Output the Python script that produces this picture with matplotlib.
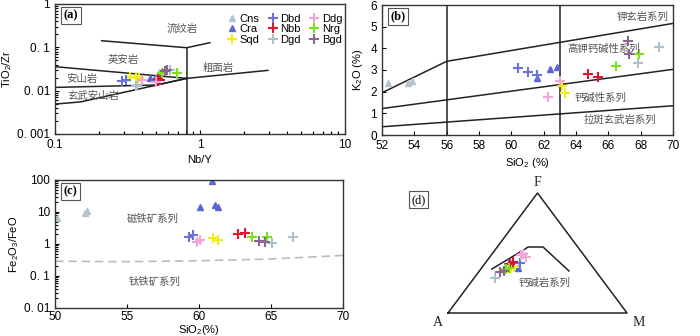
import numpy as np
import matplotlib
matplotlib.use('Agg')
import matplotlib.pyplot as plt
from matplotlib.ticker import NullFormatter, LogLocator

plt.rcParams['font.family'] = ['Liberation Sans', 'Noto Sans CJK SC', 'DejaVu Sans']
plt.rcParams['font.size'] = 8
plt.rcParams['mathtext.fontset'] = 'custom'
plt.rcParams['mathtext.rm'] = 'Liberation Sans'
plt.rcParams['mathtext.it'] = 'Liberation Sans'

#* Groups and styles
GROUPS = ['Cns', 'Cra', 'Sqd', 'Dbd', 'Nbb', 'Dgd', 'Ddg', 'Nrg', 'Bgd']
COLOURS = {'Cns': '#b4c2cc', 'Cra': '#5a66d6', 'Sqd': '#f2ee10', 'Dbd': '#6a72dc',
           'Nbb': '#e0142e', 'Dgd': '#a9c3cc', 'Ddg': '#f0a6d6', 'Nrg': '#7ce01e',
           'Bgd': '#8e6494'}
MARKERS = {'Cns': '^', 'Cra': '^', 'Sqd': '+', 'Dbd': '+', 'Nbb': '+',
           'Dgd': '+', 'Ddg': '+', 'Nrg': '+', 'Bgd': '+'}

#* (a) Nb/Y vs TiO2/Zr
A_NBY = {'Cns': [0.52], 'Cra': [0.45, 0.49], 'Sqd': [0.33, 0.36, 0.38],
         'Dbd': [0.29, 0.31], 'Nbb': [0.51, 0.53], 'Dgd': [0.36, 0.37, 0.62],
         'Ddg': [0.40, 0.50], 'Nrg': [0.55, 0.69], 'Bgd': [0.57, 0.59]}
A_TIZR = {'Cns': [0.0275], 'Cra': [0.0200, 0.0200], 'Sqd': [0.021, 0.021, 0.020],
          'Dbd': [0.0165, 0.0175], 'Nbb': [0.0190, 0.0175], 'Dgd': [0.0125, 0.0130, 0.030],
          'Ddg': [0.0172, 0.0155], 'Nrg': [0.026, 0.026], 'Bgd': [0.029, 0.030]}
A_LINES = [
    ([0.21, 0.81, 1.17], [0.142, 0.098, 0.128]),
    ([0.81, 0.81], [0.098, 0.001]),
    ([0.1, 0.81], [0.0358, 0.0192]),
    ([0.1, 0.5, 0.81], [0.0119, 0.0135, 0.0192]),
    ([0.1, 0.15, 0.81], [0.0049, 0.0055, 0.0192]),
    ([0.81, 2.94], [0.0192, 0.0294]),
]
A_LABELS = [('流纹岩', 0.75, 0.265), ('英安岩', 0.294, 0.051), ('安山岩', 0.154, 0.0187),
            ('玄武安山岩', 0.183, 0.0076), ('粗面岩', 1.33, 0.0334)]

#* (b) SiO2 vs K2O
B_SIO2 = {'Cns': [52.39, 53.63, 53.84], 'Cra': [61.6, 62.39, 62.8], 'Sqd': [63.11, 63.32],
          'Dbd': [60.43, 61.05, 61.57], 'Nbb': [64.76, 65.34], 'Dgd': [67.85, 69.15],
          'Ddg': [62.29, 63.01], 'Nrg': [66.47, 67.91], 'Bgd': [67.24, 67.3]}
B_K2O = {'Cns': [2.41, 2.42, 2.49], 'Cra': [2.65, 3.05, 3.15], 'Sqd': [2.26, 1.95],
         'Dbd': [3.08, 2.92, 2.77], 'Nbb': [2.82, 2.69], 'Dgd': [3.31, 4.05],
         'Ddg': [1.74, 2.49], 'Nrg': [3.2, 3.72], 'Bgd': [4.34, 3.72]}
B_LINES = [
    ([52, 56, 70], [1.95, 3.4, 5.15]),
    ([52, 70], [1.22, 3.03]),
    ([52, 70], [0.38, 1.35]),
    ([56, 56], [0, 6]),
    ([63, 63], [0, 6]),
]
B_LABELS = [('钾玄岩系列', 68.1, 5.45), ('高钾钙碱性系列', 65.7, 3.97),
            ('钙碱性系列', 65.5, 1.72), ('拉斑玄武岩系列', 66.7, 0.7)]

#* (c) SiO2 vs Fe2O3/FeO
C_SIO2 = {'Cns': [50.12, 52.08, 52.25], 'Cra': [60.88, 60.07, 61.11, 61.34],
          'Sqd': [61.0, 61.34], 'Dbd': [59.3, 59.6], 'Nbb': [62.73, 63.19],
          'Dgd': [65.05, 66.55], 'Ddg': [59.84, 60.07], 'Nrg': [63.7, 64.7],
          'Bgd': [64.19, 64.58]}
C_FE = {'Cns': [6.6, 9.0, 10.5], 'Cra': [90, 14, 16, 14],
        'Sqd': [1.5, 1.32], 'Dbd': [1.6, 1.9], 'Nbb': [2.0, 2.25],
        'Dgd': [1.08, 1.7], 'Ddg': [1.15, 1.32], 'Nrg': [1.7, 1.65],
        'Bgd': [1.22, 1.12]}
C_DASH_X = [50, 55, 60, 65, 70]
C_DASH_Y = [0.29, 0.28, 0.30, 0.34, 0.44]
C_LABELS = [('磁铁矿系列', 56.8, 6.3), ('钛铁矿系列', 56.9, 0.065)]

#* (d) AFM (A, F fractions; M = 1 - A - F)
D_A = {'Sqd': [0.44, 0.46], 'Cra': [0.42], 'Dbd': [0.39, 0.455], 'Nbb': [0.45, 0.425],
       'Dgd': [0.59], 'Ddg': [0.35, 0.33, 0.335], 'Nrg': [0.49, 0.47], 'Bgd': [0.538, 0.512]}
D_F = {'Sqd': [0.383, 0.375], 'Cra': [0.375], 'Dbd': [0.417, 0.41], 'Nbb': [0.408, 0.425],
       'Dgd': [0.292], 'Ddg': [0.483, 0.467, 0.492], 'Nrg': [0.367, 0.375], 'Bgd': [0.342, 0.35]}
D_CURVE_A = [0.571, 0.30, 0.278, 0.194, 0.149]
D_CURVE_F = [0.367, 0.535, 0.55, 0.55, 0.35]


def afm_xy(a, f):
    a = np.asarray(a)
    f = np.asarray(f)
    m = 1 - a - f
    return m + f / 2, f * np.sqrt(3) / 2


def scatter_group(ax, g, x, y, label=None):
    if MARKERS[g] == '^':
        ax.plot(x, y, '^', ms=4, color=COLOURS[g], mec=COLOURS[g], ls='none', label=label)
    else:
        ax.plot(x, y, '+', ms=6.5, mew=1.5, color=COLOURS[g], ls='none', label=label)


def panel_tag(ax, text, x, y):
    ax.text(x, y, text, transform=ax.transAxes, family='Liberation Serif', fontsize=9,
            fontweight='bold', va='top', ha='left',
            bbox=dict(boxstyle='square,pad=0.2', fc='white', ec='#555555', lw=0.8))


def style_axes(ax):
    for s in ax.spines.values():
        s.set_linewidth(1.0)
        s.set_color('#333333')
    ax.tick_params(direction='in', which='both', length=3, width=0.8, labelsize=8.5)
    ax.tick_params(which='minor', length=2)


fig = plt.figure(figsize=(7, 3.36), dpi=100)
LW = 1.1
LC = '#222222'
CJK = dict(family=['Noto Sans CJK SC'], color='#555555', fontsize=7.5)

#* Panel (a)
ax = fig.add_axes([55 / 700, 1 - 134 / 336, 290 / 700, 130 / 336])
ax.set_xscale('log')
ax.set_yscale('log')
ax.set_xlim(0.1, 10)
ax.set_ylim(0.001, 1)
for xs, ys in A_LINES:
    ax.plot(xs, ys, color=LC, lw=LW)
for g in GROUPS:
    scatter_group(ax, g, A_NBY[g], A_TIZR[g], label=g)
for t, x, y in A_LABELS:
    ax.text(x, y, t, ha='center', va='center', **CJK)
ax.set_xticks([0.1, 1, 10])
ax.set_xticklabels(['0.1', '1', '10'])
ax.set_yticks([0.001, 0.01, 0.1, 1])
ax.set_yticklabels(['0. 001', '0. 01', '0. 1', '1'])
ax.xaxis.set_minor_locator(LogLocator(subs=np.arange(2, 10)))
ax.yaxis.set_minor_locator(LogLocator(subs=np.arange(2, 10)))
ax.xaxis.set_minor_formatter(NullFormatter())
ax.yaxis.set_minor_formatter(NullFormatter())
ax.set_xlabel('Nb/Y', labelpad=3)
ax.set_ylabel('TiO$_2$/Zr', labelpad=2)
style_axes(ax)
panel_tag(ax, '(a)', 0.03, 0.96)
ax.legend(loc='upper left', bbox_to_anchor=(0.56, 0.985), ncol=3, frameon=False,
          fontsize=8, handletextpad=0.1, columnspacing=0.6, labelspacing=0.05,
          handlelength=1.2, borderpad=0.2)

#* Panel (b)
ax = fig.add_axes([382 / 700, 1 - 135 / 336, 291 / 700, 130 / 336])
ax.set_xlim(52, 70)
ax.set_ylim(0, 6)
for xs, ys in B_LINES:
    ax.plot(xs, ys, color=LC, lw=LW)
for g in GROUPS:
    scatter_group(ax, g, B_SIO2[g], B_K2O[g])
for t, x, y in B_LABELS:
    ax.text(x, y, t, ha='center', va='center', **CJK)
ax.set_xticks(np.arange(52, 71, 2))
ax.set_yticks(np.arange(0, 7, 1))
ax.set_xlabel('SiO$_2$ (%)', labelpad=3)
ax.set_ylabel('K$_2$O (%)', labelpad=4)
style_axes(ax)
panel_tag(ax, '(b)', 0.03, 0.96)

#* Panel (c)
ax = fig.add_axes([55 / 700, 1 - 308 / 336, 288 / 700, 128 / 336])
ax.set_yscale('log')
ax.set_xlim(50, 70)
ax.set_ylim(0.01, 100)
ax.plot(C_DASH_X, C_DASH_Y, ls='--', color='#bbbbbb', lw=1.2, dashes=(5, 3))
for g in GROUPS:
    scatter_group(ax, g, C_SIO2[g], C_FE[g])
for t, x, y in C_LABELS:
    ax.text(x, y, t, ha='center', va='center', **CJK)
ax.set_xticks([50, 55, 60, 65, 70])
ax.set_yticks([0.01, 0.1, 1, 10, 100])
ax.set_yticklabels(['0. 01', '0. 1', '1', '10', '100'])
ax.yaxis.set_minor_locator(LogLocator(subs=np.arange(2, 10)))
ax.yaxis.set_minor_formatter(NullFormatter())
ax.set_xlabel('SiO$_2$(%)', labelpad=0, fontsize=8)
ax.set_ylabel('Fe$_2$O$_3$/FeO', labelpad=2)
style_axes(ax)
ax.tick_params(axis='x', pad=2)
panel_tag(ax, '(c)', 0.03, 0.96)

#* Panel (d) AFM ternary
ax = fig.add_axes([448 / 700, 1 - 313 / 336, 179 / 700, 120 / 336])
h = np.sqrt(3) / 2
ax.set_xlim(0, 1)
ax.set_ylim(0, h)
ax.axis('off')
ax.plot([0, 1, 0.5, 0], [0, 0, h, 0], color=LC, lw=LW, clip_on=False)
cx, cy = afm_xy(D_CURVE_A, D_CURVE_F)
ax.plot(cx, cy, color=LC, lw=LW)
for g in GROUPS:
    if g in D_A:
        px, py = afm_xy(D_A[g], D_F[g])
        scatter_group(ax, g, px, py)
serif = dict(family='Liberation Serif', fontsize=10, color='#222222')
ax.text(0.5, h + 0.03, 'F', ha='center', va='bottom', **serif)
ax.text(-0.03, -0.02, 'A', ha='right', va='top', **serif)
ax.text(1.03, -0.02, 'M', ha='left', va='top', **serif)
ax.text(0.54, 0.22, '钙碱岩系列', ha='center', va='center', **CJK)
fig.text(411 / 700, 1 - 194 / 336, '(d)', family='Liberation Serif', fontsize=9,
         va='top', ha='left',
         bbox=dict(boxstyle='square,pad=0.2', fc='white', ec='#555555', lw=0.8))

fig.savefig('out.png', dpi=100)
